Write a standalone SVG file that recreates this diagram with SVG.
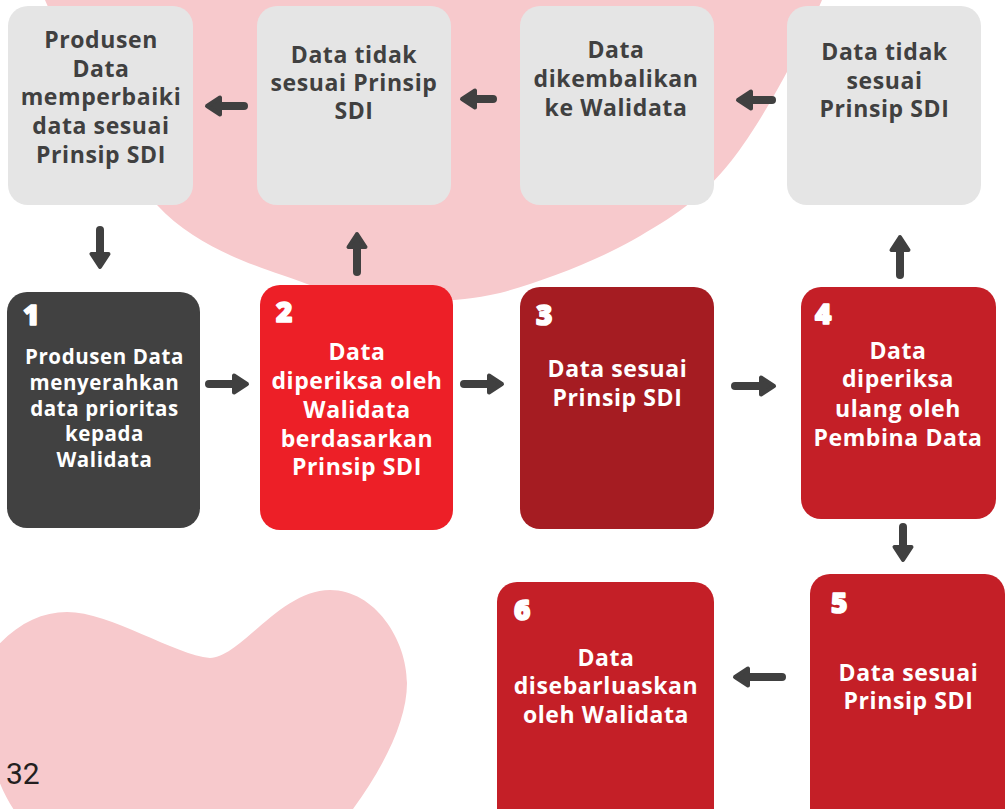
<svg xmlns="http://www.w3.org/2000/svg" width="1008" height="809" viewBox="0 0 1008 809">
<style>
.bg{fill:#f7c9cc}
.gray{fill:#e5e5e5}
.t{font-family:'Open Sans','Liberation Sans',sans-serif;font-weight:700;font-size:23px;text-anchor:middle;letter-spacing:0.6px}
.tg{fill:#404040}
.tw{fill:#ffffff}
.ts{font-size:20.5px}
.num{font-family:'Open Sans','DejaVu Sans',sans-serif;font-weight:800;font-size:28px;fill:#ffffff;stroke:#ffffff;stroke-width:1.6;stroke-linejoin:round}
.pg{font-family:Roboto,'Liberation Sans',sans-serif;font-size:30px;fill:#231f20}
.shaft{fill:none;stroke:#404040;stroke-width:8;stroke-linecap:round}
.head{fill:#404040;stroke:#404040;stroke-width:4;stroke-linejoin:round}
</style>
<rect width="1008" height="809" fill="#ffffff"/>
<g id="background">
<path class="bg" d="M45,0 C67.8,50.8 113.3,157.7 157,205 C200.7,252.3 264.8,268.2 307,284 C349.2,299.8 377.8,298.5 410,300 C442.2,301.5 462.8,301 500,293 C537.2,283 594.3,262.2 633,240 C671.7,217.8 700.5,200 732,160 C763.5,120 804,43.3 822,0 L822,-10 L45,-10 Z"/>
<path class="bg" d="M-8,652 C15,625 40,612 67,612 C110,612 175,655 210,658 C240,658 280,590 330,590 C375,590 407,640 407,683 C407,720 385,765 353,809 L340,830 L30,830 C15,815 0,790 -8,760 Z"/>
<text class="pg" x="6" y="784">32</text>
</g>
<g id="node-a">
<rect class="gray" x="8" y="6" width="185" height="199" rx="20"/>
<text class="t tg" x="101" y="47.5">Produsen</text>
<text class="t tg" x="101" y="76.5">Data</text>
<text class="t tg" x="101" y="105">memperbaiki</text>
<text class="t tg" x="101" y="134">data sesuai</text>
<text class="t tg" x="101" y="163">Prinsip SDI</text>
</g>
<g id="node-b">
<rect class="gray" x="257" y="6" width="194" height="199" rx="20"/>
<text class="t tg" x="354" y="63">Data tidak</text>
<text class="t tg" x="354" y="91">sesuai Prinsip</text>
<text class="t tg" x="354" y="119">SDI</text>
</g>
<g id="node-c">
<rect class="gray" x="520" y="6" width="194" height="199" rx="20"/>
<text class="t tg" x="616" y="58">Data</text>
<text class="t tg" x="616" y="87">dikembalikan</text>
<text class="t tg" x="616" y="116">ke Walidata</text>
</g>
<g id="node-d">
<rect class="gray" x="787" y="6" width="194" height="199" rx="20"/>
<text class="t tg" x="884.5" y="60">Data tidak</text>
<text class="t tg" x="884.5" y="88.5">sesuai</text>
<text class="t tg" x="884.5" y="117">Prinsip SDI</text>
</g>
<g id="node-1">
<rect x="7" y="292" width="193" height="236" rx="20" fill="#414141"/>
<text class="num" x="23" y="325">1</text>
<text class="t tw ts" x="104.5" y="364">Produsen Data</text>
<text class="t tw ts" x="104.5" y="390">menyerahkan</text>
<text class="t tw ts" x="104.5" y="415.5">data prioritas</text>
<text class="t tw ts" x="104.5" y="441">kepada</text>
<text class="t tw ts" x="104.5" y="467">Walidata</text>
</g>
<g id="node-2">
<rect x="260" y="285" width="193" height="245" rx="20" fill="#ed1f27"/>
<text class="num" x="276" y="322">2</text>
<text class="t tw" x="357" y="360">Data</text>
<text class="t tw" x="357" y="389">diperiksa oleh</text>
<text class="t tw" x="357" y="418">Walidata</text>
<text class="t tw" x="357" y="446.5">berdasarkan</text>
<text class="t tw" x="357" y="475">Prinsip SDI</text>
</g>
<g id="node-3">
<rect x="520" y="287" width="194" height="242" rx="20" fill="#a51c22"/>
<text class="num" x="536" y="325">3</text>
<text class="t tw" x="617.5" y="377">Data sesuai</text>
<text class="t tw" x="617.5" y="406">Prinsip SDI</text>
</g>
<g id="node-4">
<rect x="801" y="287" width="195" height="232" rx="20" fill="#c41f27"/>
<text class="num" x="815" y="324">4</text>
<text class="t tw" x="898" y="359">Data</text>
<text class="t tw" x="898" y="387">diperiksa</text>
<text class="t tw" x="898" y="417">ulang oleh</text>
<text class="t tw" x="898" y="446">Pembina Data</text>
</g>
<g id="node-5">
<rect x="810" y="574" width="195" height="260" rx="20" fill="#c41f27"/>
<text class="num" x="831" y="613">5</text>
<text class="t tw" x="908.5" y="681">Data sesuai</text>
<text class="t tw" x="908.5" y="709">Prinsip SDI</text>
</g>
<g id="node-6">
<rect x="497" y="582" width="217" height="250" rx="20" fill="#c41f27"/>
<text class="num" x="514" y="620">6</text>
<text class="t tw" x="606" y="666">Data</text>
<text class="t tw" x="606" y="694">disebarluaskan</text>
<text class="t tw" x="606" y="723">oleh Walidata</text>
</g>
<g id="connectors">
<path class="shaft" d="M244,106 L215,106"/><polygon class="head" points="207,106 220,97.5 220,114.5"/>
<path class="shaft" d="M493,99 L470,99"/><polygon class="head" points="462,99 475,90.5 475,107.5"/>
<path class="shaft" d="M772,100 L746,100"/><polygon class="head" points="738,100 751,91.5 751,108.5"/>
<path class="shaft" d="M100,230 L100,259"/><polygon class="head" points="100,267 91.5,254 108.5,254"/>
<path class="shaft" d="M357,272 L357,242"/><polygon class="head" points="357,234 348.5,247 365.5,247"/>
<path class="shaft" d="M900,275 L900,245"/><polygon class="head" points="900,237 891.5,250 908.5,250"/>
<path class="shaft" d="M209,384 L239,384"/><polygon class="head" points="247,384 234,375.5 234,392.5"/>
<path class="shaft" d="M464,384 L494,384"/><polygon class="head" points="502,384 489,375.5 489,392.5"/>
<path class="shaft" d="M735,386 L766,386"/><polygon class="head" points="774,386 761,377.5 761,394.5"/>
<path class="shaft" d="M903,527 L903,552"/><polygon class="head" points="903,560 894.5,547 911.5,547"/>
<path class="shaft" d="M782,677 L743,677"/><polygon class="head" points="735,677 748,668.5 748,685.5"/>
</g>
</svg>
